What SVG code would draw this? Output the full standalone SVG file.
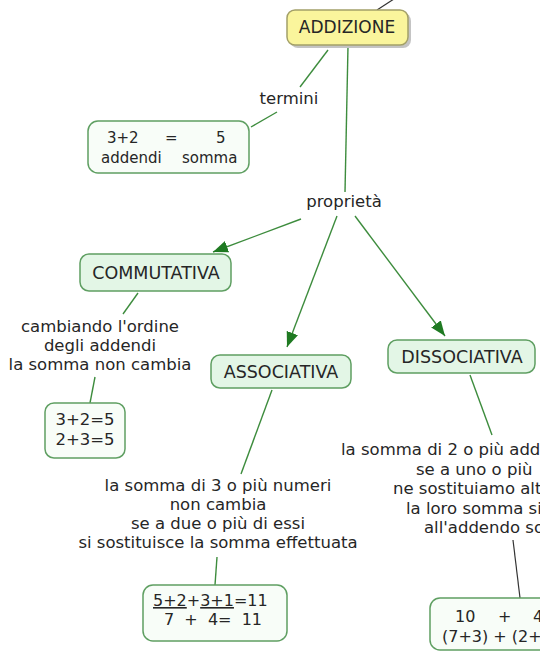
<svg xmlns="http://www.w3.org/2000/svg" width="540" height="653" viewBox="0 0 540 653">
<style>
  text { font-family: "DejaVu Sans", Verdana, sans-serif; font-size: 16.5px; fill: #262626; }
  .cap { font-size: 17.5px; }
  .c { text-anchor: middle; }
  .s { text-anchor: start; }
  .prop { fill: #e3f6e6; stroke: #5f9f62; stroke-width: 1.5; }
  .ex { fill: #f8fdf8; stroke: #5f9f62; stroke-width: 1.5; }
  .root { fill: #faf59c; stroke: #a3a068; stroke-width: 1.5; }
  .shadow { fill: #c4c4c4; }
  .g { stroke: #3d8c3d; stroke-width: 1.4; fill: none; }
  .k { stroke: #333333; stroke-width: 1.2; fill: none; }
  .u { text-decoration: underline; }
</style>
<defs>
  <marker id="arr" markerUnits="userSpaceOnUse" markerWidth="16" markerHeight="12" refX="15" refY="6" orient="auto">
    <path d="M0,0 L15,6 L0,12 z" fill="#1f7a22"/>
  </marker>
</defs>
<rect width="540" height="653" fill="#ffffff"/>

<g id="connectors">
  <line class="k" x1="377" y1="10" x2="397" y2="-3"/>
  <line class="g" x1="328" y1="50" x2="300" y2="87"/>
  <line class="g" x1="277" y1="112" x2="251" y2="127"/>
  <line class="g" x1="348" y1="46" x2="345" y2="192"/>
  <line class="g" x1="301" y1="219" x2="213" y2="252" marker-end="url(#arr)"/>
  <line class="g" x1="337" y1="216" x2="287" y2="347" marker-end="url(#arr)"/>
  <line class="g" x1="355" y1="216" x2="445" y2="336" marker-end="url(#arr)"/>
  <line class="g" x1="138" y1="293" x2="123" y2="314"/>
  <line class="g" x1="95" y1="377" x2="90" y2="403"/>
  <line class="g" x1="272" y1="390" x2="241" y2="474"/>
  <line class="g" x1="217" y1="557" x2="215" y2="585"/>
  <line class="g" x1="470" y1="375" x2="492" y2="435"/>
  <line class="k" x1="513" y1="540" x2="520" y2="598"/>
</g>

<g id="addizione">
  <rect class="shadow" x="290" y="13" width="121" height="35" rx="8"/>
  <rect class="root" x="287" y="10" width="121" height="35" rx="8"/>
  <text class="c" x="347" y="33" style="font-size:17px">ADDIZIONE</text>
</g>

<g id="termini">
  <text class="c" x="289" y="104">termini</text>
</g>

<g id="esempio-termini">
  <rect class="ex" x="88" y="121" width="161" height="52" rx="10"/>
  <text class="s" y="143" style="font-size:15px"><tspan x="107">3+2</tspan><tspan x="165">=</tspan><tspan x="216">5</tspan></text>
  <text class="s" y="163" style="font-size:15px"><tspan x="101">addendi</tspan><tspan x="182">somma</tspan></text>
</g>

<g id="proprieta">
  <text class="c" x="344" y="207">proprietà</text>
</g>

<g id="commutativa">
  <rect class="prop" x="80" y="254" width="151" height="37" rx="9"/>
  <text class="c cap" x="156" y="279">COMMUTATIVA</text>
</g>

<g id="commutativa-testo">
  <text class="c" x="100" y="332">cambiando l'ordine</text>
  <text class="c" x="100" y="351">degli addendi</text>
  <text class="c" x="100" y="370">la somma non cambia</text>
</g>

<g id="commutativa-esempio">
  <rect class="ex" x="45" y="403" width="80" height="55" rx="9"/>
  <text class="c" x="85" y="425">3+2=5</text>
  <text class="c" x="85" y="445">2+3=5</text>
</g>

<g id="associativa">
  <rect class="prop" x="211" y="355" width="140" height="33" rx="9"/>
  <text class="c cap" x="281" y="378">ASSOCIATIVA</text>
</g>

<g id="associativa-testo">
  <text class="c" x="218" y="491">la somma di 3 o più numeri</text>
  <text class="c" x="218" y="510">non cambia</text>
  <text class="c" x="218" y="529">se a due o più di essi</text>
  <text class="c" x="218" y="548">si sostituisce la somma effettuata</text>
</g>

<g id="associativa-esempio">
  <rect class="ex" x="143" y="585" width="144" height="56" rx="10"/>
  <text class="s" x="153" y="606" style="font-size:16px"><tspan class="u">5+2</tspan>+<tspan class="u">3+1</tspan>=11</text>
  <text class="s" x="164" y="625" style="font-size:16px" xml:space="preserve">7  +  4=  11</text>
</g>

<g id="dissociativa">
  <rect class="prop" x="388" y="340" width="147" height="33" rx="9"/>
  <text class="c cap" x="462" y="363">DISSOCIATIVA</text>
</g>

<g id="dissociativa-testo">
  <text class="s" x="341" y="455">la somma di 2 o più add</text>
  <text class="s" x="416" y="474.5">se a uno o più</text>
  <text class="s" x="393" y="494">ne sostituiamo alt</text>
  <text class="s" x="406" y="513.5">la loro somma si</text>
  <text class="s" x="424" y="533">all'addendo so</text>
</g>

<g id="dissociativa-esempio">
  <rect class="ex" x="430" y="598" width="160" height="52" rx="10"/>
  <text class="s" y="622" style="font-size:16px"><tspan x="455">10</tspan><tspan x="498">+</tspan><tspan x="533">4</tspan></text>
  <text class="s" x="442" y="642" style="font-size:16px">(7+3) + (2+</text>
</g>
</svg>
